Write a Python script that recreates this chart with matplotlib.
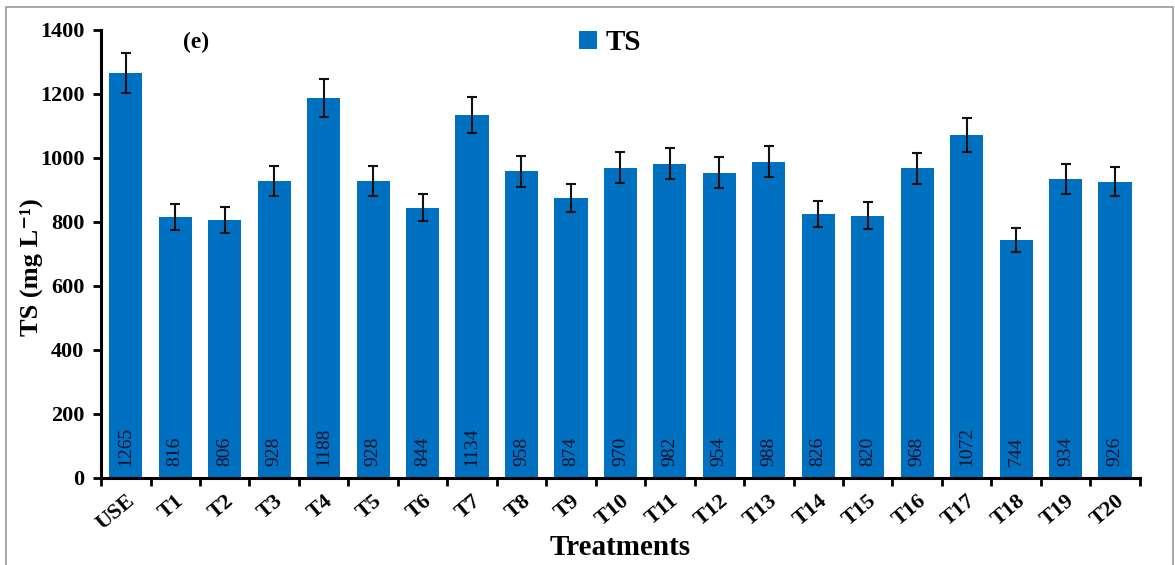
import numpy as np
import matplotlib
matplotlib.use("Agg")
import matplotlib.pyplot as plt
from matplotlib.patches import Rectangle

# data
treatments = ["USE", "T1", "T2", "T3", "T4", "T5", "T6", "T7", "T8", "T9", "T10",
              "T11", "T12", "T13", "T14", "T15", "T16", "T17", "T18", "T19", "T20"]
ts_values = [1265, 816, 806, 928, 1188, 928, 844, 1134, 958, 874, 970,
             982, 954, 988, 826, 820, 968, 1072, 744, 934, 926]
ts_errors = [63, 41, 40, 46, 59, 46, 42, 57, 48, 44, 49,
             49, 48, 49, 41, 41, 48, 54, 37, 47, 46]

plt.rcParams['font.family'] = ['Liberation Serif', 'DejaVu Serif']

bar_color = '#0070C0'

fig = plt.figure(figsize=(11.75, 5.65), dpi=100)
ax = fig.add_axes([0.086, 0.154, 0.884, 0.793])

x = np.arange(len(treatments))
ax.bar(x, ts_values, width=0.67, color=bar_color, label='TS', zorder=2)
ax.errorbar(x, ts_values, yerr=ts_errors, fmt='none', ecolor='#111111',
            elinewidth=1.5, capsize=3.6, capthick=1.5, zorder=3)

for xi, v in zip(x, ts_values):
    ax.text(xi, 36, str(v), rotation=90, ha='center', va='bottom',
            fontsize=14, color='#101028', zorder=4)

ax.set_xlim(-0.5, len(treatments) - 0.5)
ax.set_ylim(0, 1400)
ax.set_yticks(np.arange(0, 1401, 200))
ax.set_yticklabels([str(t) for t in range(0, 1401, 200)], fontsize=16, fontweight='bold')

# category labels centred on bars, ticks on the category boundaries
ax.set_xticks(x)
ax.set_xticklabels(treatments, rotation=40, ha='right', rotation_mode='anchor',
                   fontsize=16, fontweight='bold')
ax.tick_params(axis='x', which='major', length=0, pad=9)
ax.set_xticks(np.arange(-0.5, len(treatments), 1), minor=True)
ax.tick_params(axis='x', which='minor', length=6, width=2, direction='out')
ax.tick_params(axis='y', length=6, width=2, direction='out', pad=6)

for side in ['top', 'right']:
    ax.spines[side].set_visible(False)
for side in ['left', 'bottom']:
    ax.spines[side].set_linewidth(2.2)

ax.set_xlabel('Treatments', fontsize=21, fontweight='bold', labelpad=0)
ax.set_ylabel('TS (mg L\u207b\u00b9)', fontsize=19, fontweight='bold')
ax.yaxis.set_label_coords(-0.056, 0.47)

ax.text(0.091, 0.995, '(e)', transform=ax.transAxes, fontsize=17,
        fontweight='bold', ha='center', va='top')

ax.legend(loc='upper center', bbox_to_anchor=(0.49, 1.06), frameon=False,
          prop={'size': 21, 'weight': 'bold'}, handlelength=0.6,
          handleheight=0.6, handletextpad=0.3)

# thin grey frame around the figure
fig.patches.append(Rectangle((0.005, -0.05), 0.993, 1.037, transform=fig.transFigure,
                             fill=False, edgecolor='#999999', linewidth=1.2))

fig.savefig('out.png', dpi=100)
